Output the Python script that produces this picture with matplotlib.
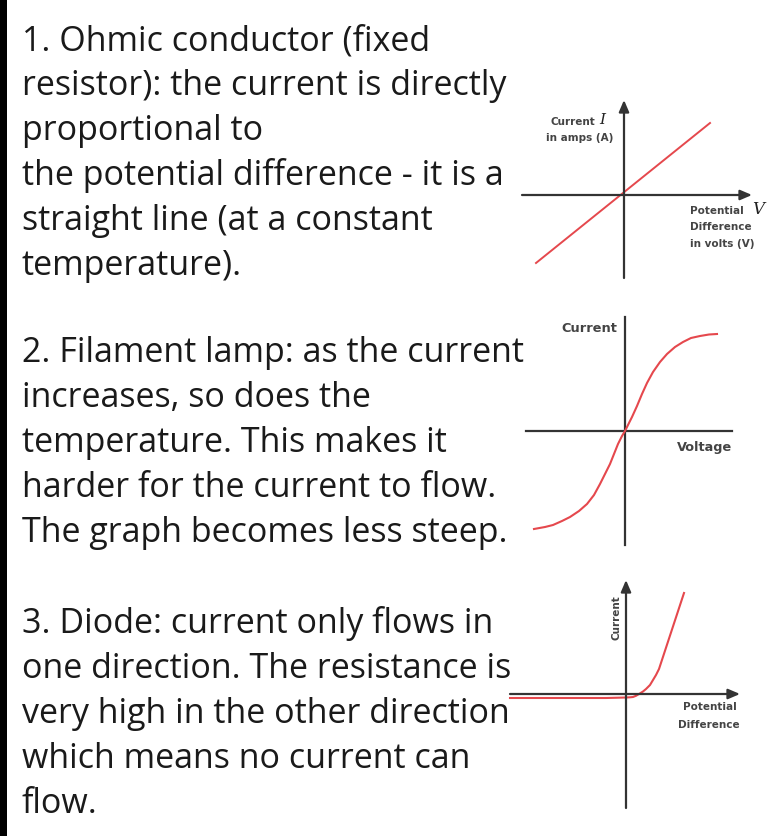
import numpy as np
import matplotlib.pyplot as plt

W, H = 769, 836

# text blocks (left column)
block1 = ["1. Ohmic conductor (fixed",
          "resistor): the current is directly",
          "proportional to",
          "the potential difference - it is a",
          "straight line (at a constant",
          "temperature)."]
block2 = ["2. Filament lamp: as the current",
          "increases, so does the",
          "temperature. This makes it",
          "harder for the current to flow.",
          "The graph becomes less steep."]
block3 = ["3. Diode: current only flows in",
          "one direction. The resistance is",
          "very high in the other direction",
          "which means no current can",
          "flow."]

# curves (pixels from the origin, y up)
ohmic_v = [-88, 86]
ohmic_i = [-68, 72]

lamp_v = [-91, -80, -72, -63, -55, -46, -38, -31, -25, -20, -15, -11, -7, -3, 0,
          3, 7, 12, 17, 22, 28, 35, 42, 50, 58, 66, 75, 84, 92]
lamp_i = [-98, -96, -94, -90, -86, -80, -73, -64, -53, -43, -33, -23, -13, -5, 0,
          6, 14, 25, 37, 48, 59, 69, 77, 84, 89, 93, 95, 96.5, 97]

diode_v = [-116, -20, 0, 4, 7, 10, 13, 17, 20, 24, 27, 30, 33, 58]
diode_i = [-4, -4, -3.5, -3.3, -3, -1.8, 0, 2.5, 5, 9, 14, 19, 25, 101]

RED = "#e5484d"
AX = "#333333"
LBL = "#444444"
TXT = "#1a1a1a"

fig = plt.figure(figsize=(W / 100, H / 100), dpi=100)
fig.patch.set_facecolor("white")

# black strip at the left edge
bar = fig.add_axes([0, 0, 7 / W, 1])
bar.set_facecolor("black")
bar.set_xticks([])
bar.set_yticks([])
for s in bar.spines.values():
    s.set_visible(False)


def put_block(lines, y0, step=45):
    for k, t in enumerate(lines):
        fig.text(22 / W, 1 - (y0 + k * step) / H, t, fontsize=24.5,
                 family="Open Sans", color=TXT, va="baseline", ha="left")


put_block(block1, 50)
put_block(block2, 362)
put_block(block3, 633)


def graph(x0, y0, x1, y1, ox, oy):
    # axes in pixel box, data = pixels from origin
    ax = fig.add_axes([x0 / W, 1 - y1 / H, (x1 - x0) / W, (y1 - y0) / H])
    ax.set_xlim(x0 - ox, x1 - ox)
    ax.set_ylim(oy - y1, oy - y0)
    ax.axis("off")
    return ax


def arrow(ax, p0, p1):
    ax.annotate("", xy=p1, xytext=p0,
                arrowprops=dict(arrowstyle="-|>,head_length=0.7,head_width=0.3",
                                color=AX, lw=1.6, shrinkA=0, shrinkB=0))


# graph 1: ohmic conductor
ax1 = graph(505, 90, 769, 290, 624, 195)
arrow(ax1, (-102, 0), (128, 0))
arrow(ax1, (0, -83), (0, 95))
ax1.plot(ohmic_v, ohmic_i, color=RED, lw=1.4)
ax1.text(-29, 73, "Current", fontsize=7.5, color=LBL, fontweight="bold", ha="right", va="center")
ax1.text(-25, 75, "I", fontsize=11, color="#222222", family="DejaVu Serif", style="italic", ha="left", va="center")
ax1.text(-11, 57, "in amps (A)", fontsize=7.5, color=LBL, fontweight="bold", ha="right", va="center")
ax1.text(66, -16, "Potential", fontsize=7.5, color=LBL, fontweight="bold", ha="left", va="center")
ax1.text(128, -14, "V", fontsize=12, color="#222222", family="DejaVu Serif", style="italic", ha="left", va="center")
ax1.text(66, -32, "Difference", fontsize=7.5, color=LBL, fontweight="bold", ha="left", va="center")
ax1.text(66, -49, "in volts (V)", fontsize=7.5, color=LBL, fontweight="bold", ha="left", va="center")

# graph 2: filament lamp
ax2 = graph(505, 305, 769, 555, 625, 431)
ax2.plot([-99, 107], [0, 0], color=AX, lw=1.6)
ax2.plot([0, 0], [-114, 114], color=AX, lw=1.6)
ax2.plot(lamp_v, lamp_i, color=RED, lw=1.5)
ax2.text(-8, 102, "Current", fontsize=9.3, color=LBL, fontweight="bold", ha="right", va="center")
ax2.text(107, -17, "Voltage", fontsize=9.3, color=LBL, fontweight="bold", ha="right", va="center")

# graph 3: diode
ax3 = graph(505, 570, 769, 820, 626, 694)
arrow(ax3, (-116, 0), (114, 0))
arrow(ax3, (0, -114), (0, 114))
ax3.plot(diode_v, diode_i, color=RED, lw=1.5)
ax3.text(-9, 76, "Current", fontsize=7.5, color=LBL, fontweight="bold", rotation=90, ha="center", va="center")
ax3.text(111, -13, "Potential", fontsize=7.5, color=LBL, fontweight="bold", ha="right", va="center")
ax3.text(114, -31, "Difference", fontsize=7.5, color=LBL, fontweight="bold", ha="right", va="center")

fig.savefig("out.png", dpi=100, facecolor="white")
